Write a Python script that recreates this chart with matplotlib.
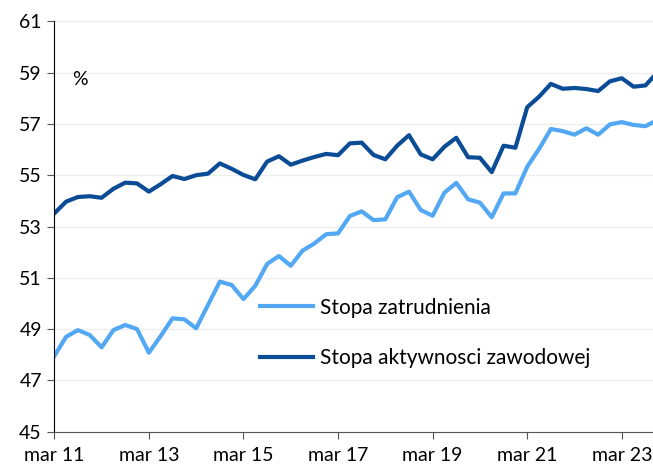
import matplotlib
matplotlib.use('Agg')
import matplotlib.pyplot as plt
import numpy as np

plt.rcParams['font.family'] = ['Lato', 'DejaVu Sans']

# kwartalnie, od mar 11 (I kw. 2011) do gru 23
stopa_zatrudnienia = [47.95, 48.70, 48.96, 48.77, 48.29, 48.96, 49.16, 49.00,
                      48.08, 48.73, 49.42, 49.38, 49.03, 49.94, 50.85, 50.72,
                      50.17, 50.69, 51.54, 51.85, 51.47, 52.06, 52.34, 52.70,
                      52.73, 53.41, 53.59, 53.25, 53.28, 54.14, 54.36, 53.64,
                      53.42, 54.32, 54.70, 54.06, 53.93, 53.36, 54.29, 54.29,
                      55.33, 56.02, 56.80, 56.72, 56.58, 56.83, 56.58, 56.98,
                      57.07, 56.96, 56.91, 57.15]
stopa_aktywnosci = [53.51, 53.97, 54.15, 54.18, 54.12, 54.47, 54.71, 54.68,
                    54.36, 54.65, 54.97, 54.85, 55.00, 55.06, 55.46, 55.25,
                    55.01, 54.84, 55.53, 55.74, 55.41, 55.57, 55.71, 55.83,
                    55.78, 56.24, 56.27, 55.79, 55.62, 56.15, 56.56, 55.81,
                    55.62, 56.11, 56.46, 55.70, 55.68, 55.12, 56.15, 56.07,
                    57.65, 58.06, 58.56, 58.37, 58.40, 58.36, 58.28, 58.66,
                    58.78, 58.45, 58.50, 59.00]
xtick_labels = ['mar 11', 'mar 13', 'mar 15', 'mar 17', 'mar 19', 'mar 21', 'mar 23']

x = np.arange(len(stopa_zatrudnienia))

fig = plt.figure(figsize=(6.53, 4.66), dpi=100)
ax = fig.add_axes([54.3/653, 1-431.7/466, 1-54.3/653, (431.7-21.3)/466])

ax.plot(x, stopa_zatrudnienia, color='#52a8f2', lw=3, label='Stopa zatrudnienia')
ax.plot(x, stopa_aktywnosci, color='#0a4c96', lw=3, label='Stopa aktywnosci zawodowej')

ax.set_xlim(0, 50.64)
ax.set_ylim(45, 61)
ax.set_yticks(np.arange(45, 62, 2))
ax.set_xticks(np.arange(0, 49, 8))
ax.set_xticklabels(xtick_labels)
ax.grid(axis='y', color='#eeeeee', lw=1)
ax.set_axisbelow(True)

for s in ['top', 'right']:
    ax.spines[s].set_visible(False)
ax.spines['left'].set_color('black')
ax.spines['bottom'].set_color('#555555')
ax.tick_params(axis='both', labelsize=14, length=5, color='#555555', pad=6)
ax.tick_params(axis='y', pad=4)

ax.text(0.03, 0.845, '%', transform=ax.transAxes, fontsize=14)

ax.legend(loc='upper left', bbox_to_anchor=(0.312, 0.372), frameon=False,
          fontsize=15, handlelength=2.55, handletextpad=0.35, labelspacing=1.45)

fig.savefig('out.png', dpi=100)
